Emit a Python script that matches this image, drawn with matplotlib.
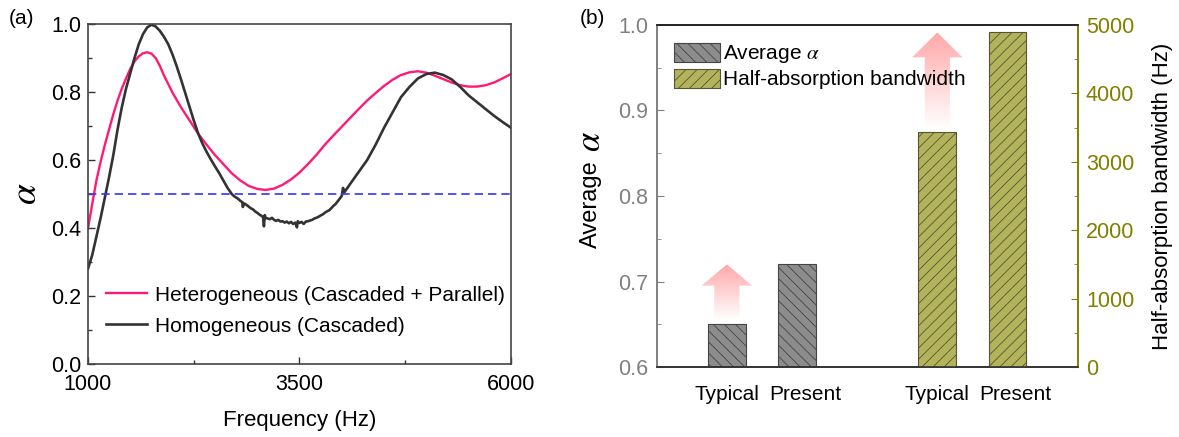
import numpy as np
import matplotlib
matplotlib.use("Agg")
import matplotlib.pyplot as plt
import matplotlib.transforms as mtransforms
from matplotlib.ticker import MultipleLocator, FixedLocator
from matplotlib.colors import LinearSegmentedColormap
from matplotlib.patches import Polygon, Patch

plt.rcParams['font.family'] = ['Liberation Sans', 'DejaVu Sans']
plt.rcParams['mathtext.fontset'] = 'stix'
plt.rcParams['hatch.linewidth'] = 0.6

# (a) absorption curves
freq_het = [1000, 1050, 1100, 1150, 1200, 1250, 1300, 1350, 1400, 1450, 1500, 1550,
            1600, 1650, 1700, 1750, 1800, 1850, 1900, 2000, 2100, 2200, 2300, 2400,
            2500, 2600, 2700, 2800, 2900, 3000, 3100, 3200, 3300, 3400, 3500, 3600,
            3700, 3800, 3900, 4000, 4100, 4200, 4300, 4400, 4500, 4600, 4700, 4800,
            4900, 5000, 5100, 5200, 5300, 5400, 5500, 5600, 5700, 5800, 5900, 6000]
alpha_het = [0.398, 0.47, 0.54, 0.595, 0.645, 0.69, 0.735, 0.775, 0.81, 0.84, 0.868, 0.89,
             0.905, 0.914, 0.917, 0.913, 0.90, 0.877, 0.848, 0.798, 0.755, 0.717, 0.678, 0.646,
             0.615, 0.588, 0.561, 0.54, 0.524, 0.515, 0.512, 0.516, 0.527, 0.543, 0.563, 0.588,
             0.615, 0.645, 0.672, 0.698, 0.724, 0.75, 0.775, 0.797, 0.818, 0.836, 0.85, 0.858,
             0.861, 0.857, 0.848, 0.838, 0.828, 0.82, 0.816, 0.816, 0.82, 0.828, 0.84, 0.853]

freq_hom = [1000, 1050, 1100, 1150, 1200, 1250, 1300, 1350, 1400, 1450, 1500, 1550,
            1600, 1650, 1700, 1750, 1800, 1850, 1900, 1950, 2000, 2050, 2100, 2150,
            2200, 2250, 2300, 2350, 2400, 2450, 2500, 2550, 2600, 2650, 2700, 2725,
            2750, 2775, 2800, 2825, 2830, 2850, 2875, 2900, 2925, 2950, 2975, 3000,
            3025, 3050, 3070, 3080, 3090, 3100, 3125, 3150, 3175, 3200, 3225, 3250,
            3275, 3300, 3325, 3350, 3375, 3400, 3425, 3450, 3470, 3480, 3500, 3525,
            3550, 3575, 3600, 3625, 3650, 3675, 3700, 3725, 3750, 3775, 3800, 3825,
            3850, 3875, 3900, 3925, 3950, 3975, 4000, 4015, 4030, 4050, 4100, 4200,
            4300, 4400, 4500, 4600, 4700, 4800, 4900, 5000, 5100, 5200, 5300, 5400,
            5500, 5600, 5700, 5800, 5900, 6000]
alpha_hom = [0.28, 0.32, 0.375, 0.43, 0.49, 0.55, 0.615, 0.69, 0.755, 0.81, 0.855, 0.90,
             0.94, 0.97, 0.99, 0.998, 0.993, 0.98, 0.962, 0.94, 0.91, 0.875, 0.837, 0.797,
             0.757, 0.717, 0.68, 0.65, 0.625, 0.603, 0.582, 0.562, 0.54, 0.518, 0.50, 0.494,
             0.490, 0.486, 0.480, 0.476, 0.462, 0.472, 0.468, 0.463, 0.458, 0.455, 0.449, 0.445,
             0.440, 0.436, 0.432, 0.405, 0.438, 0.430, 0.428, 0.426, 0.430, 0.424, 0.421, 0.424,
             0.419, 0.420, 0.416, 0.419, 0.414, 0.418, 0.412, 0.416, 0.402, 0.420, 0.415, 0.418,
             0.412, 0.419, 0.420, 0.422, 0.424, 0.428, 0.430, 0.433, 0.437, 0.440, 0.445, 0.449,
             0.452, 0.458, 0.465, 0.470, 0.478, 0.486, 0.495, 0.518, 0.505, 0.512, 0.53, 0.565,
             0.60, 0.645, 0.695, 0.74, 0.785, 0.815, 0.84, 0.853, 0.857, 0.85, 0.837, 0.815,
             0.79, 0.77, 0.75, 0.73, 0.712, 0.695]

# (b) bar values
bar_labels = ['Typical', 'Present', 'Typical', 'Present']
avg_alpha = [0.65, 0.72]
bandwidth = [3430, 4890]

fig = plt.figure(figsize=(11.79, 4.37), dpi=100)

# ---------- panel (a) ----------
ax = fig.add_axes([0.0746, 0.167, 0.3588, 0.778])
ax.plot(freq_het, alpha_het, color='#ff1a75', lw=1.7, label='Heterogeneous (Cascaded + Parallel)')
ax.plot(freq_hom, alpha_hom, color='#333333', lw=1.9, label='Homogeneous (Cascaded)')
ax.axhline(0.5, color='#3333ff', lw=1.2, ls=(0, (5, 3)))
ax.set_xlim(1000, 6000)
ax.set_ylim(0, 1.0)
ax.set_xticks([1000, 3500, 6000])
ax.xaxis.set_minor_locator(FixedLocator([2250, 4750]))
ax.yaxis.set_major_locator(MultipleLocator(0.2))
ax.yaxis.set_minor_locator(MultipleLocator(0.1))
ax.set_yticklabels([f'{v:.1f}' for v in ax.get_yticks()])
ax.tick_params(which='both', direction='in', top=False, right=False, labelsize=15.5, width=1,
               colors='#333333', labelcolor='black')
ax.tick_params(which='major', length=5, pad=5)
ax.tick_params(which='minor', length=3)
ax.tick_params(axis='x', pad=7)
for s in ax.spines.values():
    s.set_color('#444444')
    s.set_linewidth(1.2)
ax.set_xlabel('Frequency (Hz)', fontsize=16, labelpad=11)
ax.set_ylabel(r'$\alpha$', fontsize=27, labelpad=5)
ax.legend(loc='center left', bbox_to_anchor=(0.023, 0.157), frameon=False, fontsize=15,
          handlelength=1.95, handletextpad=0.4, labelspacing=0.58, borderaxespad=0)

# ---------- panel (b) ----------
gray_c = '#808080'
olive_c = '#808000'
bx = fig.add_axes([0.557, 0.160, 0.357, 0.783])
bx2 = bx.twinx()
pos_alpha = [1, 2]
pos_bw = [4, 5]
bx.bar(pos_alpha, avg_alpha, width=0.54, color='#8c8c8c', edgecolor='#444444',
       hatch='\\\\\\', lw=0.8, zorder=2)
bx2.bar(pos_bw, bandwidth, width=0.54, color='#b3b35c', edgecolor='#555533',
        hatch='///', lw=0.8, zorder=2)
bx.set_xticks(pos_alpha + pos_bw)
bx.set_xticklabels(bar_labels)
bx.tick_params(axis='x', length=0, pad=13, labelsize=15)
# "Present" labels sit a little right of their bars in the original
shift = mtransforms.ScaledTranslation(0.08, 0, fig.dpi_scale_trans)
for i, lab in enumerate(bx.get_xticklabels()):
    if i % 2 == 1:
        lab.set_transform(lab.get_transform() + shift)
bx.yaxis.set_minor_locator(MultipleLocator(0.05))
bx.set_ylim(0.6, 1.0)
bx.set_yticks([0.6, 0.7, 0.8, 0.9, 1.0])
bx.set_yticklabels(['0.6', '0.7', '0.8', '0.9', '1.0'])
bx.tick_params(axis='y', which='both', direction='in', colors=gray_c, labelsize=15.5, pad=6)
bx.tick_params(axis='y', which='major', length=5)
bx.tick_params(axis='y', which='minor', length=3)
bx2.yaxis.set_major_locator(MultipleLocator(1000))
bx2.yaxis.set_minor_locator(MultipleLocator(500))
bx2.tick_params(axis='y', which='both', direction='in', colors=olive_c, labelsize=15.5, pad=6)
bx2.tick_params(axis='y', which='major', length=5)
bx2.tick_params(axis='y', which='minor', length=3)
for a in (bx, bx2):
    a.spines['left'].set_color(gray_c)
    a.spines['right'].set_color(olive_c)
    a.spines['top'].set_color('#222222')
    a.spines['bottom'].set_color('#333333')
    for s in a.spines.values():
        s.set_linewidth(1.2)
# left label: "Average" with a larger italic alpha above it
bx.text(-0.157, 0.475, 'Average', rotation=90, fontsize=17, transform=bx.transAxes,
        ha='center', va='center')
bx.text(-0.157, 0.66, r'$\alpha$', rotation=90, fontsize=25, transform=bx.transAxes,
        ha='center', va='center')
bx2.set_ylabel('Half-absorption bandwidth (Hz)', fontsize=16, labelpad=13)

# gradient arrows from typical value to present value
pink = LinearSegmentedColormap.from_list('pk', ['white', '#ffa8a8'])


def grad_arrow(a, x, y0, y1, head_frac, hw=0.72, sw=0.36):
    yb = y1 - head_frac * (a.get_ylim()[1] - a.get_ylim()[0])
    pts = [(x - sw / 2, y0), (x - sw / 2, yb), (x - hw / 2, yb), (x, y1),
           (x + hw / 2, yb), (x + sw / 2, yb), (x + sw / 2, y0)]
    poly = Polygon(pts, closed=True, facecolor='none', edgecolor='none', transform=a.transData)
    a.add_patch(poly)
    g = np.linspace(0, 1, 200)
    img = a.imshow(g[:, None], cmap=pink, origin='lower', aspect='auto',
                   extent=(x - hw / 2, x + hw / 2, y0, y1), zorder=1, vmin=0, vmax=1)
    img.set_clip_path(poly)


bx.set_xlim(0, 6)
bx2.set_ylim(0, 5000)
grad_arrow(bx, pos_alpha[0], avg_alpha[0] + 0.005, avg_alpha[1], 0.062)
grad_arrow(bx2, pos_bw[0], bandwidth[0] + 50, bandwidth[1], 0.073)
bx.set_xlim(0, 6)
bx.set_ylim(0.6, 1.0)
bx2.set_ylim(0, 5000)

handles = [Patch(facecolor='#8c8c8c', edgecolor='#444444', hatch='\\\\\\', lw=0.8),
           Patch(facecolor='#b3b35c', edgecolor='#555533', hatch='///', lw=0.8)]
bx2.legend(handles, [r'Average $\alpha$', 'Half-absorption bandwidth'], loc='center left',
           bbox_to_anchor=(0.021, 0.88), frameon=False, fontsize=15, handlelength=2.2,
           handleheight=1.05, handletextpad=0.15, labelspacing=0.15, borderaxespad=0)

fig.text(0.007, 0.957, '(a)', fontsize=15, va='center')
fig.text(0.492, 0.957, '(b)', fontsize=15, va='center')

fig.savefig('out.png', dpi=100)
